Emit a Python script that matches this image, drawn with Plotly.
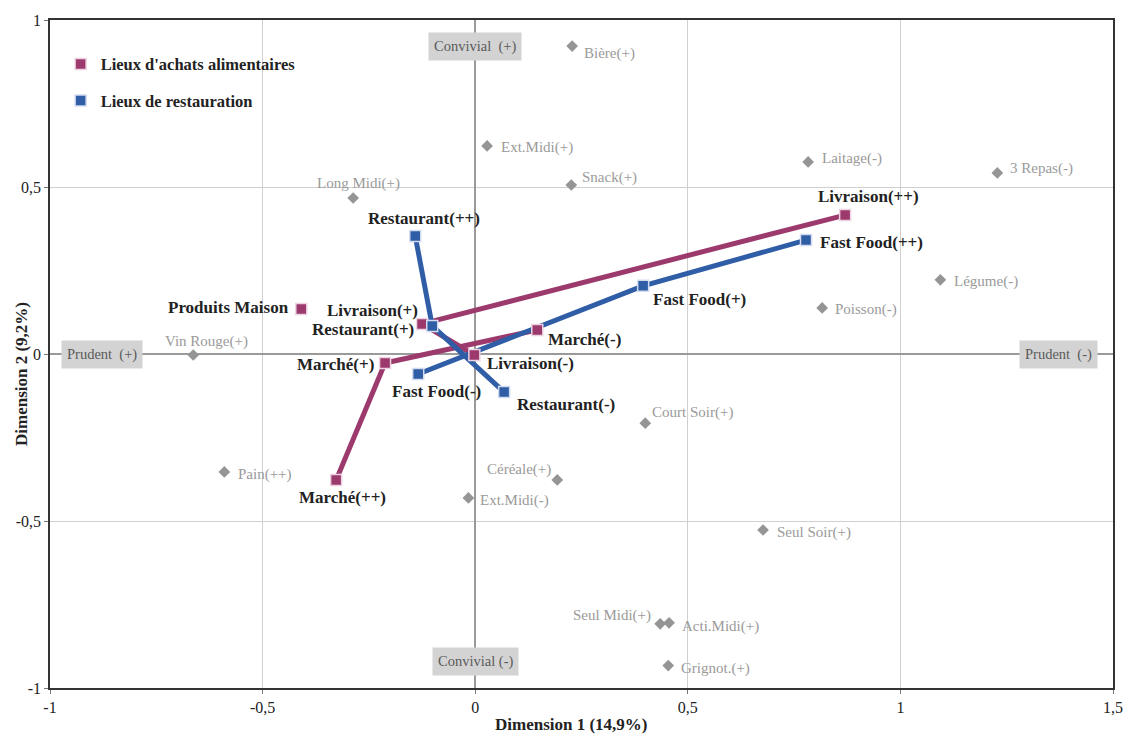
import plotly.graph_objects as go

# Active categories: coordinates on the first two dimensions
achats_names = ["Livraison(++)", "Livraison(+)", "Livraison(-)",
                "Marché(++)", "Marché(+)", "Marché(-)", "Produits Maison"]
achats_x = [0.870, -0.125, -0.002, -0.327, -0.212, 0.146, -0.409]
achats_y = [0.416, 0.090, -0.003, -0.377, -0.027, 0.072, 0.135]

resto_names = ["Restaurant(++)", "Restaurant(+)", "Restaurant(-)",
               "Fast Food(++)", "Fast Food(+)", "Fast Food(-)"]
resto_x = [-0.141, -0.101, 0.068, 0.778, 0.395, -0.134]
resto_y = [0.353, 0.084, -0.114, 0.341, 0.204, -0.060]

# Supplementary categories
supp_names = ["Bière(+)", "Ext.Midi(+)", "Snack(+)", "Laitage(-)", "3 Repas(-)",
              "Long Midi(+)", "Légume(-)", "Poisson(-)", "Vin Rouge(+)",
              "Court Soir(+)", "Pain(++)", "Céréale(+)", "Ext.Midi(-)",
              "Seul Soir(+)", "Seul Midi(+)", "Acti.Midi(+)", "Grignot.(+)"]
supp_x = [0.228, 0.028, 0.226, 0.783, 1.228, -0.287, 1.094, 0.816, -0.663,
          0.400, -0.590, 0.193, -0.016, 0.677, 0.435, 0.456, 0.454]
supp_y = [0.922, 0.623, 0.506, 0.575, 0.542, 0.467, 0.222, 0.138, -0.003,
          -0.207, -0.353, -0.377, -0.431, -0.527, -0.808, -0.805, -0.933]

# Poles of the axes
pole_names = ["Convivial  (+)", "Convivial (-)", "Prudent  (+)", "Prudent  (-)"]
pole_x = [0.0, 0.0, -0.877, 1.371]
pole_y = [0.922, -0.922, 0.0, 0.0]

x_ticks = [-1, -0.5, 0, 0.5, 1, 1.5]
x_ticktext = ["-1", "-0,5", "0", "0,5", "1", "1,5"]
y_ticks = [-1, -0.5, 0, 0.5, 1]
y_ticktext = ["-1", "-0,5", "0", "0,5", "1"]

x_title = "Dimension 1 (14,9%)"
y_title = "Dimension 2 (9,2%)"

# Trajectories (indices into the arrays above)
achats_paths = [[0, 1, 2], [3, 4, 5]]
resto_paths = [[0, 1, 2], [3, 4, 5]]

PURPLE = "#9c3a6d"
BLUE = "#2f5da6"
SERIF = "Liberation Serif, Times New Roman, serif"

fig = go.Figure()

def add_paths(xs, ys, paths, color):
    for p in paths:
        fig.add_trace(go.Scatter(
            x=[xs[i] for i in p], y=[ys[i] for i in p], mode="lines",
            line=dict(color=color, width=5), showlegend=False, hoverinfo="skip"))

add_paths(achats_x, achats_y, achats_paths, PURPLE)
add_paths(resto_x, resto_y, resto_paths, BLUE)

fig.add_trace(go.Scatter(
    x=supp_x, y=supp_y, mode="markers", text=supp_names, showlegend=False,
    marker=dict(symbol="diamond", size=9, color="#959595")))

fig.add_trace(go.Scatter(
    x=achats_x, y=achats_y, mode="markers", text=achats_names,
    name="<b>Lieux d'achats alimentaires</b>", legendgroup="a",
    marker=dict(symbol="square", size=11, color=PURPLE,
                line=dict(color="#ecd3e2", width=1.5))))
fig.add_trace(go.Scatter(
    x=resto_x, y=resto_y, mode="markers", text=resto_names,
    name="<b>Lieux de restauration</b>", legendgroup="b",
    marker=dict(symbol="square", size=11, color=BLUE,
                line=dict(color="#d3dcef", width=1.5))))

# label placement: (xanchor, xshift, yshift)
main_pos = {
    "Livraison(++)": ("center", 23, 19),
    "Livraison(+)": ("right", -2, 13),
    "Livraison(-)": ("left", 11, -8),
    "Marché(++)": ("center", 6, -18),
    "Marché(+)": ("right", -9, -1),
    "Marché(-)": ("left", 9, -10),
    "Produits Maison": ("right", -10, 1),
    "Restaurant(++)": ("center", 9, 18),
    "Restaurant(+)": ("right", -16, -4),
    "Restaurant(-)": ("left", 11, -12),
    "Fast Food(++)": ("left", 12, -2),
    "Fast Food(+)": ("left", 8, -14),
    "Fast Food(-)": ("center", 18, -17),
}
supp_pos = {
    "Bière(+)": ("left", 10, -7),
    "Ext.Midi(+)": ("left", 12, -2),
    "Snack(+)": ("left", 9, 8),
    "Laitage(-)": ("left", 12, 3),
    "3 Repas(-)": ("left", 11, 4),
    "Long Midi(+)": ("center", 5, 15),
    "Légume(-)": ("left", 12, -2),
    "Poisson(-)": ("left", 11, -2),
    "Vin Rouge(+)": ("center", 13, 14),
    "Court Soir(+)": ("left", 5, 11),
    "Pain(++)": ("left", 12, -3),
    "Céréale(+)": ("right", -4, 10),
    "Ext.Midi(-)": ("left", 10, -3),
    "Seul Soir(+)": ("left", 12, -2),
    "Seul Midi(+)": ("right", -7, 8),
    "Acti.Midi(+)": ("left", 11, -4),
    "Grignot.(+)": ("left", 11, -3),
}

annotations = []
for names, xs, ys in [(achats_names, achats_x, achats_y), (resto_names, resto_x, resto_y)]:
    for n, x, y in zip(names, xs, ys):
        xa, dx, dy = main_pos[n]
        annotations.append(dict(
            x=x, y=y, text="<b>" + n + "</b>", showarrow=False, xanchor=xa,
            yanchor="middle", xshift=dx, yshift=dy,
            font=dict(family=SERIF, size=17, color="#222222")))
for n, x, y in zip(supp_names, supp_x, supp_y):
    xa, dx, dy = supp_pos[n]
    annotations.append(dict(
        x=x, y=y, text=n, showarrow=False, xanchor=xa, yanchor="middle",
        xshift=dx, yshift=dy, font=dict(family=SERIF, size=15, color="#9a9a9a")))
for n, x, y in zip(pole_names, pole_x, pole_y):
    annotations.append(dict(
        x=x, y=y, text=n.replace("  ", "&nbsp;&nbsp;"), showarrow=False,
        xanchor="center", yanchor="middle", bgcolor="#d3d3d3", borderpad=5,
        font=dict(family=SERIF, size=14.5, color="#5a5a5a")))

# axis titles
annotations.append(dict(
    xref="paper", yref="paper", x=0.491, y=-0.054, text="<b>" + x_title + "</b>",
    showarrow=False, xanchor="center", yanchor="middle",
    font=dict(family=SERIF, size=17, color="#222222")))
annotations.append(dict(
    xref="paper", yref="paper", x=-0.0273, y=0.47, text="<b>" + y_title + "</b>",
    showarrow=False, xanchor="center", yanchor="middle", textangle=-90,
    font=dict(family=SERIF, size=17, color="#222222")))

axis_common = dict(
    showgrid=True, gridcolor="#d0d0d0", gridwidth=1,
    zeroline=True, zerolinecolor="#9a9a9a", zerolinewidth=1.5,
    showline=True, mirror=True, linecolor="#333333", linewidth=1.5,
    ticks="outside", ticklen=4, tickcolor="#777777", automargin=False,
    tickfont=dict(family=SERIF, size=16, color="#222222"),
)

fig.update_layout(
    width=1128, height=735,
    margin=dict(l=50, r=15, t=20, b=47),
    paper_bgcolor="white", plot_bgcolor="white",
    font=dict(family=SERIF),
    annotations=annotations,
    xaxis=dict(range=[-1, 1.5], tickvals=x_ticks, ticktext=x_ticktext,
               **axis_common),
    yaxis=dict(range=[-1, 1], tickvals=y_ticks, ticktext=y_ticktext,
               **axis_common),
    legend=dict(x=0.01, y=0.96, xanchor="left", yanchor="top",
                bgcolor="rgba(0,0,0,0)", tracegroupgap=12,
                traceorder="grouped",
                font=dict(family=SERIF, size=16.5, color="#222222")),
    showlegend=True,
)

fig.write_html("out.html")
